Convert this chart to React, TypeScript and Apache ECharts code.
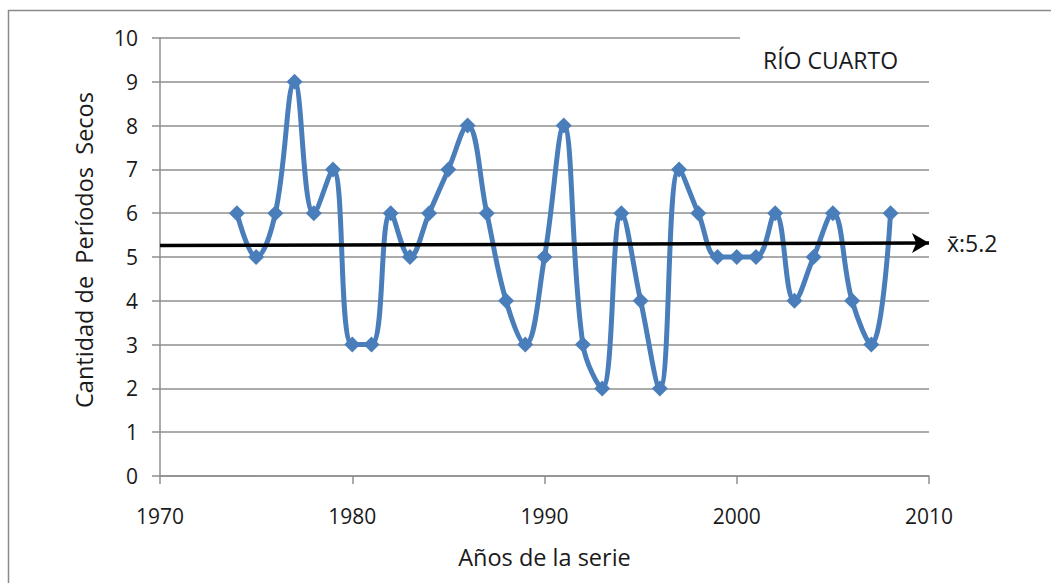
import React, { useEffect, useRef } from "react";
import * as echarts from "echarts";

const years = [1974, 1975, 1976, 1977, 1978, 1979, 1980, 1981, 1982, 1983, 1984, 1985, 1986, 1987, 1988, 1989, 1990, 1991, 1992, 1993, 1994, 1995, 1996, 1997, 1998, 1999, 2000, 2001, 2002, 2003, 2004, 2005, 2006, 2007, 2008];
const dryPeriods = [6, 5, 6, 9, 6, 7, 3, 3, 6, 5, 6, 7, 8, 6, 4, 3, 5, 8, 3, 2, 6, 4, 2, 7, 6, 5, 5, 5, 6, 4, 5, 6, 4, 3, 6];
const meanValue = 5.2;
const meanLabel = "x\u0304:5.2";
const stationName = "RÍO CUARTO";
const xTitle = "Años de la serie";
const yTitle = "Cantidad de  Períodos  Secos";

const FONT = "'Open Sans', 'Liberation Sans', sans-serif";
const TEXT = "#1a1a1a";

export default function App() {
  const ref = useRef<HTMLDivElement>(null);
  useEffect(() => {
    if (!ref.current) return;
    const chart = echarts.init(ref.current, null, { renderer: "svg" });
    const gridColor = "#8f8f8f";
    chart.setOption({
      animation: false,
      backgroundColor: "#ffffff",
      textStyle: { fontFamily: FONT },
      grid: { left: 160, right: 122, top: 38, bottom: 107, containLabel: false },
      title: {
        text: stationName,
        left: 758,
        top: 43,
        textStyle: { fontFamily: FONT, fontSize: 23, fontWeight: "normal", color: TEXT },
      },
      xAxis: {
        type: "value",
        min: 1970,
        max: 2010,
        interval: 10,
        name: xTitle,
        nameLocation: "middle",
        nameGap: 69,
        nameTextStyle: { fontFamily: FONT, fontSize: 23.5, color: TEXT },
        axisLine: { show: true, lineStyle: { color: gridColor, width: 1.5 } },
        axisTick: { show: true, length: 8, inside: false, lineStyle: { color: gridColor, width: 1.5 } },
        axisLabel: {
          fontFamily: FONT,
          fontSize: 21,
          color: TEXT,
          margin: 29,
          formatter: (v: number) => String(v),
        },
        splitLine: { show: false },
      },
      yAxis: {
        type: "value",
        min: 0,
        max: 10,
        interval: 1,
        name: yTitle,
        nameLocation: "middle",
        nameGap: 64,
        nameTextStyle: { fontFamily: FONT, fontSize: 23.5, color: TEXT, padding: [0, 0, 0, 14] },
        axisLine: { show: true, lineStyle: { color: gridColor, width: 1.5 } },
        axisTick: { show: true, length: 8, inside: false, lineStyle: { color: gridColor, width: 1.5 } },
        axisLabel: { fontFamily: FONT, fontSize: 21, color: TEXT, margin: 22 },
        splitLine: { show: true, lineStyle: { color: gridColor, width: 1.5 } },
      },
      graphic: [
        {
          type: "rect",
          shape: { x: 8.5, y: 10.5, width: 1060, height: 600 },
          style: { fill: "none", stroke: "#8a8a8a", lineWidth: 1.5 },
          z: 0,
          silent: true,
        },
        {
          type: "rect",
          shape: { x: 740, y: 30, width: 200, height: 16 },
          style: { fill: "#ffffff" },
          z: 1,
          silent: true,
        },
      ],
      series: [
        {
          type: "line",
          data: years.map((y, i) => [y, dryPeriods[i]]),
          smooth: 0.4,
          symbol: "diamond",
          symbolSize: 16,
          z: 3,
          lineStyle: { color: "#4A7EBB", width: 5 },
          itemStyle: { color: "#4A7EBB" },
          markLine: {
            silent: true,
            symbol: ["none", "arrow"],
            symbolSize: [15, 17],
            z: 4,
            lineStyle: { color: "#000", width: 3.5, type: "solid" },
            label: {
              show: true,
              position: "end",
              formatter: meanLabel,
              fontFamily: FONT,
              fontSize: 23,
              color: TEXT,
              distance: 18,
            },
            data: [
              [
                { coord: [1970, meanValue + 0.06] },
                { coord: [2010, meanValue + 0.12] },
              ],
            ],
          },
        },
      ],
    });
    return () => chart.dispose();
  }, []);
  return (
    <div
      ref={ref}
      style={{ position: "fixed", left: 0, top: 0, width: 1051, height: 583 }}
    />
  );
}
